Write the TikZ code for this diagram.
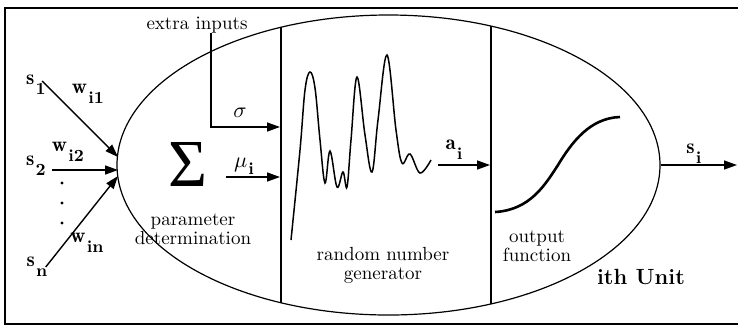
\documentclass[tikz,border=0pt]{standalone}
\usepackage{graphicx}
\usepackage{fontspec}
\newfontfamily\sigmafont{Liberation Serif}
\usetikzlibrary{arrows.meta,shapes.geometric}
\newcommand{\blab}[2]{$\mathbf{#1}$\kern0.6pt\raisebox{-1.1ex}{\fontsize{8.5}{9}\selectfont\bfseries #2}}
\begin{document}
\begin{tikzpicture}[x=0.5pt,y=-0.5pt,
  arr/.style={-{Triangle[length=6.5pt,width=4.5pt]},line width=0.7pt},
  thinline/.style={line width=0.6pt},
  txt/.style={font=\fontsize{9.5}{9.5}\selectfont,inner sep=0pt,align=center},
  lab/.style={font=\fontsize{10.5}{12}\selectfont,inner sep=0pt}]
\useasboundingbox (0,0) rectangle (738,328);
% frame
\draw[line width=0.6pt] (745,8) -- (5,8) -- (5,324) -- (745,324);
% unit ellipse
\node[draw, ellipse, line width=0.6pt, minimum width=271.5pt, minimum height=150pt, inner sep=0pt] (unit) at (388.5,165) {};
\begin{scope}
  \clip (388.5,165) ellipse [x radius=271.5, y radius=150];
  \draw[thinline] (281,0) -- (281,330);
  \draw[thinline] (491,0) -- (491,330);
\end{scope}
% inputs
\node[lab] (s1) at (36,85) {\blab{s}{1}};
\node[lab] (s2) at (36,166) {\blab{s}{2}};
\node[lab] (sn) at (37,267) {\blab{s}{n}};
\node[lab] (w1) at (88,94) {\blab{w}{i1}};
\node[lab] (w2) at (68,152) {\blab{w}{i2}};
\node[lab] (wn) at (87,243) {\blab{w}{in}};
\coordinate (p1) at (118,157);
\coordinate (p2) at (118,170);
\coordinate (p3) at (118,176);
\draw[arr] ([xshift=-2pt,yshift=2pt]s1.east) -- (p1);
\draw[arr] ([xshift=3pt]s2.east |- p2) -- (p2);
\draw[arr] ([xshift=-1pt]sn.east) -- (p3);
\fill (62,183) circle (0.8pt);
\fill (62,203) circle (0.8pt);
\fill (62,223) circle (0.8pt);
% extra inputs
\node[txt] (extra) at (197,25) {extra inputs};
\coordinate (sigtip) at (280,127);
\draw[arr] ([xshift=7pt]extra.south) |- (sigtip);
\node[lab] (sig) at (240,113) {$\sigma$};
% sum
\node[inner sep=0pt] (sum) at (188,164) {\resizebox{19.5pt}{22pt}{\sigmafont Σ}};
\coordinate (mutip) at (280,177);
\draw[arr] ([xshift=9pt]sum.east |- mutip) -- (mutip);
\node[lab] (mu) at (244,166) {$\mu$\kern0.6pt\raisebox{-0.8ex}{\fontsize{8.5}{9}\selectfont\bfseries i}};
\node[txt] (param) at (193,229) {parameter\\determination};
% random wave
\draw[line width=0.75pt] plot[smooth,tension=0.6] coordinates {
  (291,240) (300,150) (305,90) (310,72) (315,88) (320,140) (325,183)
  (330,151) (337,187) (343,172) (347,187) (351,140) (357,77)
  (365,135) (372,172) (378,120) (387,55) (396,130) (402,163)
  (410,154) (420,173) (431,160)};
\coordinate (aitail) at (438,165);
\coordinate (aitip) at (490,165);
\draw[arr] (aitail) -- (aitip);
\node[lab] (ai) at (454,150) {\blab{a}{i}};
\node[txt] (rng) at (383,265) {random number\\generator};
% output function
\draw[line width=1.3pt] (495,212) .. controls (530,210) and (545,185) .. (558,165) .. controls (572,142) and (590,118) .. (620,117);
\node[txt] (outfn) at (537,246) {output\\function};
\node[font=\bfseries\fontsize{11}{13}\selectfont, inner sep=0pt] (ith) at (641,277) {ith Unit};
% output
\coordinate (sitip) at (737,165);
\draw[arr] (unit.east) -- (sitip);
\node[lab] (si) at (694,154) {\blab{s}{i}};
\end{tikzpicture}
\end{document}
